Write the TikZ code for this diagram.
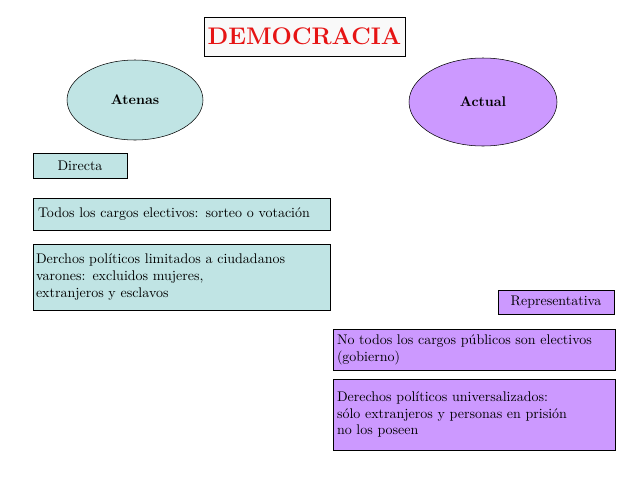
\documentclass[tikz,border=0pt]{standalone}
\usepackage{tikz}
\usetikzlibrary{shapes,positioning}
\definecolor{Aqua}{RGB}{192,228,228}
\definecolor{Lila}{RGB}{204,153,255}
\definecolor{Rojo}{RGB}{230,20,20}
\begin{document}
\begin{tikzpicture}[x=0.75pt,y=-0.75pt]
			\tikzstyle{Caja}	= [rectangle, draw, inner sep=0pt, font=\fontsize{10.5}{12.7}\selectfont, align=left]
			\tikzstyle{Ant}		= [Caja, fill=Aqua]
			\tikzstyle{Mod}		= [Caja, fill=Lila]
			\tikzstyle{Elipse}	= [ellipse, draw, inner sep=0pt, font=\fontsize{10.5}{12.7}\selectfont\bfseries]

			\useasboundingbox (0,0) rectangle (638,479);

			\node (titulo) at (304.5,36.5) [Caja, fill=white!95!gray, minimum width=150.75pt, minimum height=29.25pt, font=\fontsize{18}{21}\selectfont\bfseries, text=Rojo] {DEMOCRACIA};
			\node (atenas) at (135,100) [Elipse, fill=Aqua, minimum width=102pt, minimum height=60pt] {Atenas};
			\node (actual) at (483,102) [Elipse, fill=Lila, minimum width=111pt, minimum height=66pt] {Actual};

			\node (directa) at (80,165.5) [Ant, minimum width=70.5pt, minimum height=18.75pt] {Directa};
			\node (cargos) at (181.5,214) [Ant, minimum width=222.75pt, minimum height=24pt, text width=215.25pt] {Todos los cargos electivos: sorteo o votación};
			\node (limitados) at (181.5,277) [Ant, minimum width=222.75pt, minimum height=49.5pt, text width=218.25pt] {Derchos políticos limitados a ciudadanos\\varones: excluidos mujeres,\\extranjeros y esclavos};

			\node (repres) at (556,302) [Mod, minimum width=87pt, minimum height=18pt] {Representativa};
			\node (publicos) at (474,349.5) [Mod, minimum width=211.5pt, minimum height=30.75pt, text width=205.5pt] {No todos los cargos públicos son electivos\\ (gobierno)};
			\node (universal) at (474,414.5) [Mod, minimum width=211.5pt, minimum height=53.25pt, text width=205.5pt] {Derechos políticos universalizados:\\sólo extranjeros y personas en prisión\\no los poseen};
		\end{tikzpicture}
\end{document}
